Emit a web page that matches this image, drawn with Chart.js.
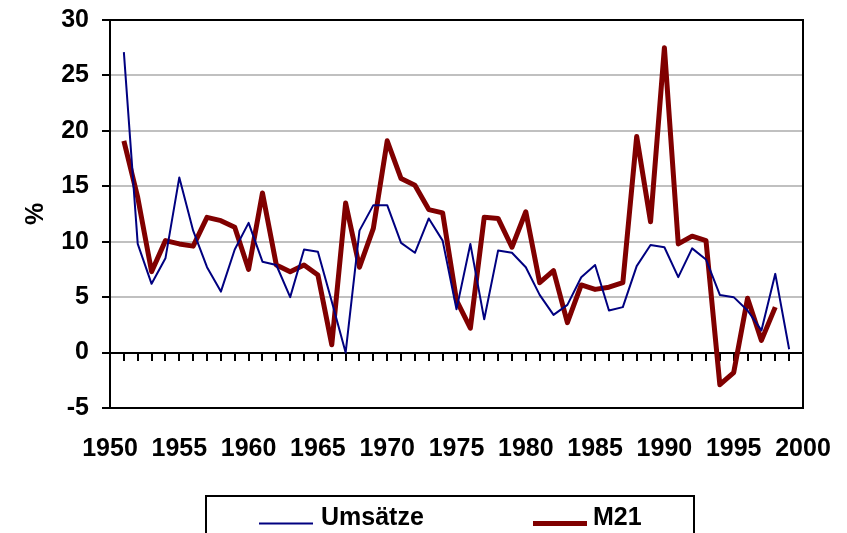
<!DOCTYPE html>
<html>
<head>
<meta charset="utf-8">
<script src="https://cdn.jsdelivr.net/npm/chart.js@4"></script>
<style>
  body { margin: 0; background: #fff; overflow: hidden; }
</style>
</head>
<body>
<canvas id="myChart" width="847" height="533"></canvas>
<script>
var umsYears = [];
for (var y = 1951; y <= 1999; y++) umsYears.push(y);
var umsaetze = [
  27.1, 9.8, 6.2, 8.5, 15.8, 11.0, 7.7, 5.5, 9.3, 11.7,
  8.2, 7.9, 5.0, 9.3, 9.1, 4.6, 0.0, 11.0, 13.3, 13.3,
  9.9, 9.0, 12.1, 10.1, 3.9, 9.8, 3.0, 9.2, 9.0, 7.7,
  5.2, 3.4, 4.3, 6.8, 7.9, 3.8, 4.1, 7.8, 9.7, 9.5,
  6.8, 9.4, 8.4, 5.2, 5.0, 3.8, 2.0, 7.1, 0.3
];
var m21Years = umsYears.slice(0, 48);
var m21 = [
  19.1, 14.0, 7.3, 10.1, 9.8, 9.6, 12.2, 11.9, 11.3, 7.5,
  14.4, 7.9, 7.3, 7.9, 7.0, 0.7, 13.5, 7.7, 11.2, 19.1,
  15.7, 15.1, 12.9, 12.6, 4.7, 2.2, 12.2, 12.1, 9.5, 12.7,
  6.3, 7.4, 2.7, 6.1, 5.7, 5.9, 6.3, 19.5, 11.8, 27.5,
  9.8, 10.5, 10.1, -2.9, -1.8, 4.9, 1.1, 4.1
];
var xTicks = [1950, 1955, 1960, 1965, 1970, 1975, 1980, 1985, 1990, 1995, 2000];

function pairs(xs, ys) {
  return ys.map(function (v, i) { return { x: xs[i], y: v }; });
}

var boldFont = { family: "'Liberation Sans', Arial, sans-serif", size: 25, weight: "bold" };

// axis line at 0, minor ticks, frame and legend box
var extras = {
  id: "extras",
  beforeDatasetsDraw: function (chart) {
    var c = chart.ctx, a = chart.chartArea;
    var xs = chart.scales.x, ys = chart.scales.y;
    var y0 = Math.round(ys.getPixelForValue(0));
    c.save();
    c.strokeStyle = "#000";
    c.lineWidth = 2;
    c.strokeRect(a.left, a.top, a.right - a.left, a.bottom - a.top);
    c.beginPath();
    c.moveTo(a.left - 8, y0);
    c.lineTo(a.right, y0);
    for (var yr = 1951; yr <= 1999; yr++) {
      var px = Math.round(xs.getPixelForValue(yr));
      c.moveTo(px, y0);
      c.lineTo(px, y0 + 8);
    }
    c.stroke();
    c.restore();
  },
  afterDraw: function (chart) {
    var c = chart.ctx;
    c.save();
    c.strokeStyle = "#000";
    c.lineWidth = 2;
    c.strokeRect(206, 496, 488, 60);
    c.lineWidth = 2;
    c.strokeStyle = "#000080";
    c.beginPath(); c.moveTo(259, 523.5); c.lineTo(313, 523.5); c.stroke();
    c.lineWidth = 5;
    c.strokeStyle = "#800000";
    c.beginPath(); c.moveTo(533, 523.5); c.lineTo(587, 523.5); c.stroke();
    c.fillStyle = "#000";
    c.font = "bold 25px 'Liberation Sans', Arial, sans-serif";
    c.textBaseline = "alphabetic";
    c.fillText("Umsätze", 321, 525);
    c.fillText("M21", 593, 525);
    c.restore();
  }
};

var ctx = document.getElementById("myChart").getContext("2d");
var myChart = new Chart(ctx, {
  type: "line",
  data: {
    datasets: [
      {
        label: "Umsätze",
        data: pairs(umsYears, umsaetze),
        borderColor: "#000080",
        borderWidth: 2,
        pointRadius: 0,
        tension: 0,
        borderJoinStyle: "round",
      },
      {
        label: "M21",
        data: pairs(m21Years, m21),
        borderColor: "#800000",
        borderWidth: 5,
        pointRadius: 0,
        tension: 0,
        borderJoinStyle: "round",
      },
    ],
  },
  options: {
    responsive: false,
    animation: false,
    layout: { padding: { left: 0, right: 44, top: 20, bottom: 0 } },
    plugins: {
      legend: { display: false },
      tooltip: { enabled: false },
    },
    scales: {
      x: {
        type: "linear",
        min: 1950,
        max: 2000,
        afterBuildTicks: function (scale) {
          scale.ticks = xTicks.map(function (v) { return { value: v }; });
        },
        ticks: {
          callback: function (v) { return String(v); },
          font: boldFont,
          color: "#000",
          padding: 26,
          maxRotation: 0,
          autoSkip: false,
        },
        grid: { display: false, drawTicks: false },
        border: { display: false },
        afterFit: function (scale) {
          scale.height = 125;
          scale.paddingLeft = 0;
          scale.paddingRight = 0;
        },
      },
      y: {
        min: -5,
        max: 30,
        ticks: { stepSize: 5, font: boldFont, color: "#000", padding: 13 },
        grid: { color: "#c0c0c0", lineWidth: 2, tickColor: "#000", tickLength: 8, tickWidth: 2 },
        border: { display: true, color: "#000", width: 2 },
        title: { display: true, text: "%", font: boldFont, color: "#000", padding: { top: 21, bottom: 0 } },
        afterFit: function (scale) {
          scale.width = 110;
          scale.paddingTop = 0;
          scale.paddingBottom = 0;
        },
      },
    },
  },
  plugins: [extras],
});
</script>
</body>
</html>
